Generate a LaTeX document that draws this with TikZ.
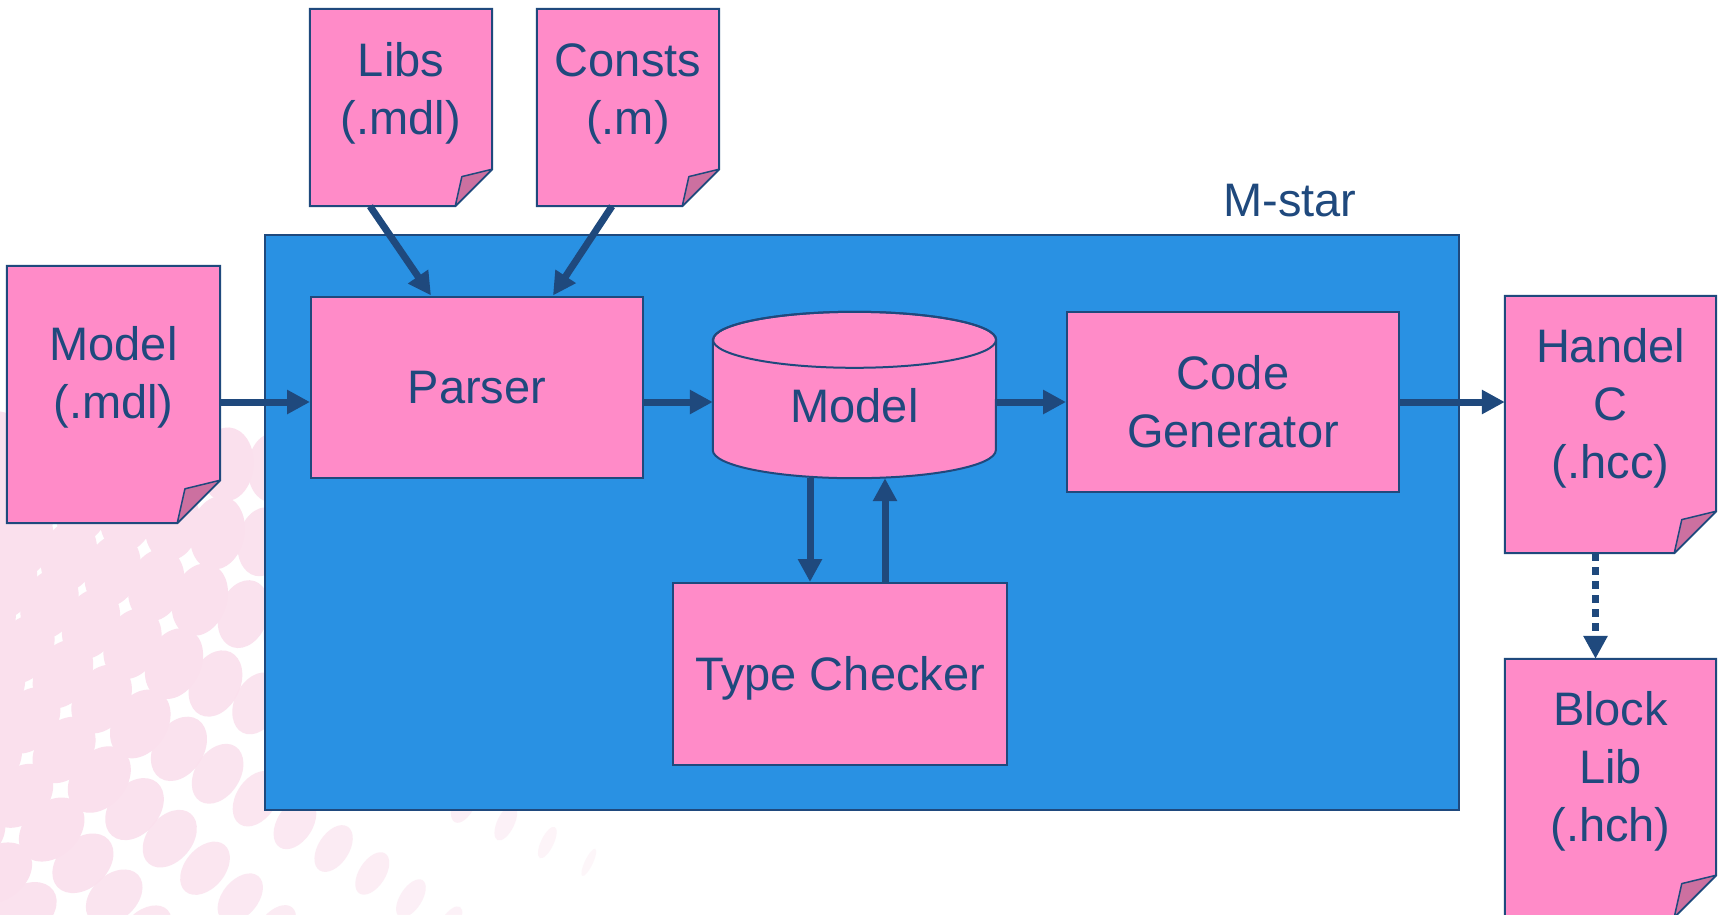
\documentclass[tikz,border=0pt]{standalone}
\usepackage{fontspec}
\setmainfont{Liberation Sans}
\usetikzlibrary{arrows.meta,calc}

\definecolor{inkblue}{RGB}{31,73,125}
\definecolor{frameblue}{RGB}{41,145,227}
\definecolor{notepink}{RGB}{255,139,200}
\definecolor{foldpink}{RGB}{204,112,160}
\definecolor{dotpink}{RGB}{250,224,237}

\pgfdeclarelayer{paper}
\pgfdeclarelayer{sheet}
\pgfsetlayers{paper,sheet,main}

% invisible strut: cap height plus room above, descender depth below
\newcommand\capstrut{\rule[-9.9pt]{0pt}{53.6pt}}

% folded paper sheet behind text node #1, fold size #2
\newcommand\foldedsheet[2]{%
  \begin{pgfonlayer}{sheet}
    \draw[sheetline] (#1.north west) -- (#1.north east) -- (#1.south east)
      -- ($(#1.south east)+(-#2,#2)$) -- ($(#1.south west)+(0,#2)$) -- cycle;
    \draw[foldline] (#1.south east) -- ($(#1.south east)+(-#2,#2)$)
      -- ($(#1.south east)+(-0.82*#2,0.2*#2)$) -- cycle;
  \end{pgfonlayer}}

\begin{document}
\begin{tikzpicture}[x=1pt,y=-1pt,
  every node/.style={inner sep=0pt, text=inkblue, align=center,
    font=\fontsize{47}{58}\selectfont},
  frame/.style={draw=inkblue, line width=2pt, fill=frameblue},
  box/.style={draw=inkblue, line width=2pt, fill=notepink},
  sheetline/.style={draw=inkblue, line width=2pt, fill=notepink},
  foldline/.style={draw=inkblue, line width=1.5pt, fill=foldpink, line join=round},
  arr/.style={draw=inkblue, line width=7pt, -{Triangle[width=23pt,length=23pt]}},
  dotarr/.style={arr, dash pattern=on 8pt off 6pt}]

\useasboundingbox (0,0) rectangle (1723,914);
\clip (0,0) rectangle (1723,914);

% halftone dots in the lower left corner of the page
\begin{pgfonlayer}{paper}
  \fill[white] (0,0) rectangle (1723,914);
  \coordinate (hub) at (-322,426);
  \foreach \i in {0,...,15}{
    \pgfmathsetmacro\ringr{320+46*\i}
    \pgfmathsetmacro\ringk{max(0,min(1,(1030-\ringr)/480))}
    \pgfmathsetmacro\dotrad{3+24*\ringk}
    \pgfmathsetmacro\dotlen{14+23*\ringk}
    \pgfmathsetmacro\dotop{0.25+0.75*\ringk}
    \foreach \j in {0,...,9}{
      \pgfmathsetmacro\dotang{4+7.2*\j}
      \fill[dotpink, fill opacity=\dotop] ($(hub)+(\dotang:\ringr)$)
        ellipse [x radius=\dotrad, y radius=\dotlen, rotate=-\dotang];
    }
  }
\end{pgfonlayer}

% the M-star tool
\node[frame, minimum width=1194, minimum height=575] (mstar) at (862,522.5) {};
\node (mstartitle) at (1290,200) {\capstrut M-star};

\node[box, minimum width=332, minimum height=181] (parser) at (477,387) {\capstrut Parser};
\node[box, minimum width=332, minimum height=180] (codegen) at (1233,402) {\capstrut Code\\Generator\capstrut};
\node[box, minimum width=334, minimum height=182] (typecheck) at (840,674) {\capstrut Type Checker};

% model store drawn as a cylinder
\node[minimum width=283, minimum height=166] (model) at (854.5,395) {};
\filldraw[box] ($(model.north west)+(0,28)$) -- ($(model.south west)+(0,-28)$)
  arc[start angle=180, end angle=0, x radius=141.5, y radius=28]
  -- ($(model.north east)+(0,28)$)
  arc[start angle=0, end angle=-180, x radius=141.5, y radius=28] -- cycle;
\draw[box, fill=none] ($(model.north)+(0,28)$) ellipse [x radius=141.5, y radius=28];
\node (modelname) at (854.5,406) {\capstrut Model};

% input and output files
\node[minimum width=213, minimum height=214] (mdlfile) at (113.5,373) {\capstrut Model\\(.mdl)\capstrut};
\foldedsheet{mdlfile}{43}
\node[minimum width=182, minimum height=160] (libs) at (401,89) {\capstrut Libs\\(.mdl)\capstrut};
\foldedsheet{libs}{37}
\node[minimum width=182, minimum height=160] (consts) at (628,89) {\capstrut Consts\\(.m)\capstrut};
\foldedsheet{consts}{37}
\node[minimum width=211, minimum height=215] (handel) at (1610.5,403.5) {\capstrut Handel\\C\\(.hcc)\capstrut};
\foldedsheet{handel}{42}
\node[minimum width=211, minimum height=216] (blocklib) at (1610.5,767) {\capstrut Block\\Lib\\(.hch)\capstrut};
\foldedsheet{blocklib}{42}

% data flow
\coordinate (row) at (0,402);
\coordinate (down) at (810,0);
\coordinate (up) at (885,0);
\draw[arr] (mdlfile.east |- row) -- (parser.west |- row);
\draw[arr] (parser.east |- row) -- (model.west |- row);
\draw[arr] (model.east |- row) -- (codegen.west |- row);
\draw[arr] (codegen.east |- row) -- (handel.west |- row);
\draw[arr] ($(libs.south)+(-31,37)$) -- ($(parser.north)+(-46,0)$);
\draw[arr] ($(consts.south)+(-16,37)$) -- ($(parser.north)+(76,0)$);
\draw[arr] (down |- model.south) -- (down |- typecheck.north);
\draw[arr] (up |- typecheck.north) -- (up |- model.south);
\draw[dotarr] ($(handel.south)+(-15,42)$) -- ($(blocklib.north)+(-15,0)$);
\end{tikzpicture}
\end{document}
